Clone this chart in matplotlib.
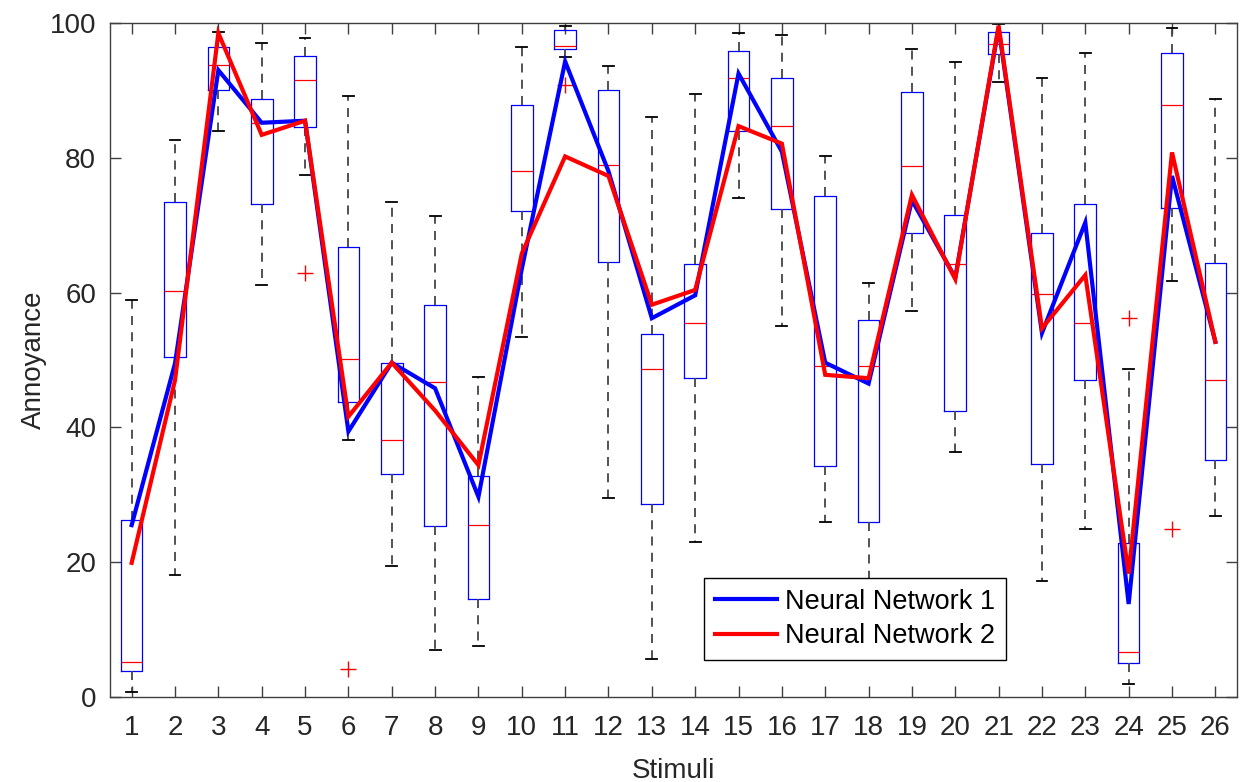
import numpy as np
import matplotlib.pyplot as plt

plt.rcParams['font.family'] = ['Liberation Sans', 'DejaVu Sans']

# ------------------------------------------------------------------ #
# data
stimuli = np.arange(1, 27)

box_top = [26.3, 73.5, 96.5, 88.7, 95.1, 66.8, 49.5, 58.2, 32.8, 87.8, 99.0, 90.1, 53.8,
           64.3, 95.9, 91.8, 74.3, 55.9, 89.7, 71.5, 98.6, 68.8, 73.1, 22.9, 95.5, 64.4]
box_bot = [3.9, 50.4, 90.1, 73.1, 84.6, 43.8, 33.1, 25.3, 14.5, 72.1, 96.1, 64.5, 28.7,
           47.3, 84.0, 72.4, 34.2, 25.9, 68.8, 42.5, 95.4, 34.6, 47.0, 5.1, 72.6, 35.2]
median = [5.2, 60.2, 93.8, 85.2, 91.6, 50.2, 38.2, 46.8, 25.5, 78.0, 96.6, 79.0, 48.7,
          55.5, 91.8, 84.7, 49.1, 49.1, 78.8, 64.3, 96.9, 59.8, 55.5, 6.7, 87.9, 47.0]
whisk_hi = [58.9, 82.6, 98.7, 97.0, 97.7, 89.2, 73.5, 71.3, 47.5, 96.5, 99.5, 93.6, 86.1,
            89.4, 98.5, 98.2, 80.2, 61.4, 96.1, 94.2, 99.9, 91.9, 95.6, 48.6, 99.2, 88.7]
whisk_lo = [0.8, 18.1, 84.0, 61.2, 77.4, 38.1, 19.5, 7.0, 7.5, 53.4, 94.9, 29.5, 5.6,
            23.0, 74.0, 55.0, 25.9, 10.0, 57.2, 36.4, 91.3, 17.2, 24.9, 1.9, 61.7, 26.9]
outliers = {5: [62.9], 6: [4.1], 11: [90.8], 24: [56.2], 25: [24.9]}

nn1 = [25.5, 49.5, 93.0, 85.2, 85.5, 39.4, 49.6, 45.8, 29.7, 63.5, 94.3, 78.0, 56.2,
       59.6, 92.5, 80.9, 49.6, 46.5, 73.7, 62.2, 99.3, 54.0, 70.4, 13.8, 77.3, 52.7]
nn2 = [19.9, 47.0, 98.5, 83.4, 85.5, 41.6, 49.6, 42.5, 34.4, 65.8, 80.2, 77.3, 58.2,
       60.4, 84.7, 82.1, 47.8, 47.3, 74.5, 62.0, 99.6, 54.7, 62.6, 18.3, 80.8, 52.7]

# ------------------------------------------------------------------ #
fig = plt.figure(figsize=(12.4, 7.82), dpi=100)
ax = fig.add_axes([0.0887, 0.1087, 0.9089, 0.8619])

stats = []
for i, s in enumerate(stimuli):
    stats.append(dict(med=median[i], q1=box_bot[i], q3=box_top[i],
                      whislo=whisk_lo[i], whishi=whisk_hi[i],
                      fliers=outliers.get(int(s), [])))

ax.bxp(stats, positions=stimuli, widths=0.5, capwidths=0.25,
       boxprops=dict(color='#0000ff', linewidth=0.9),
       medianprops=dict(color='#ff0000', linewidth=0.9),
       whiskerprops=dict(color='#444444', linewidth=1.3, linestyle=(0, (5, 4))),
       capprops=dict(color='black', linewidth=1.3),
       flierprops=dict(marker='+', markeredgecolor='#ff0000', markersize=11,
                       markeredgewidth=1.0, linestyle='none'))

ax.plot(stimuli, nn1, color='#0000ff', linewidth=3, solid_joinstyle='miter',
        label='Neural Network 1', zorder=5)
ax.plot(stimuli, nn2, color='#ff0000', linewidth=3, solid_joinstyle='miter',
        label='Neural Network 2', zorder=6)

ax.set_xlim(0.5, 26.5)
ax.set_ylim(0, 100)
ax.set_xticks(stimuli)
ax.set_xticklabels([str(s) for s in stimuli])
ax.set_yticks(np.arange(0, 101, 20))
ax.tick_params(direction='in', length=8, width=1, color='#404040',
               labelsize=20, labelcolor='#262626', top=True, right=True)
ax.tick_params(axis='x', pad=13)
ax.tick_params(axis='y', pad=10)
for sp in ax.spines.values():
    sp.set_color('#404040')
    sp.set_linewidth(1)

ax.set_xlabel('Stimuli', fontsize=20, color='#262626', labelpad=12)
ax.set_ylabel('Annoyance', fontsize=20, color='#262626', labelpad=2)

leg = ax.legend(loc='lower left', bbox_to_anchor=(0.527, 0.055), borderaxespad=0,
                fontsize=19.5, frameon=True, fancybox=False, edgecolor='black',
                framealpha=1, handlelength=2.3, borderpad=0.4, labelspacing=0.3,
                handletextpad=0.3)
leg.get_frame().set_linewidth(1)
leg.set_zorder(10)

plt.savefig('out.png', dpi=100)
